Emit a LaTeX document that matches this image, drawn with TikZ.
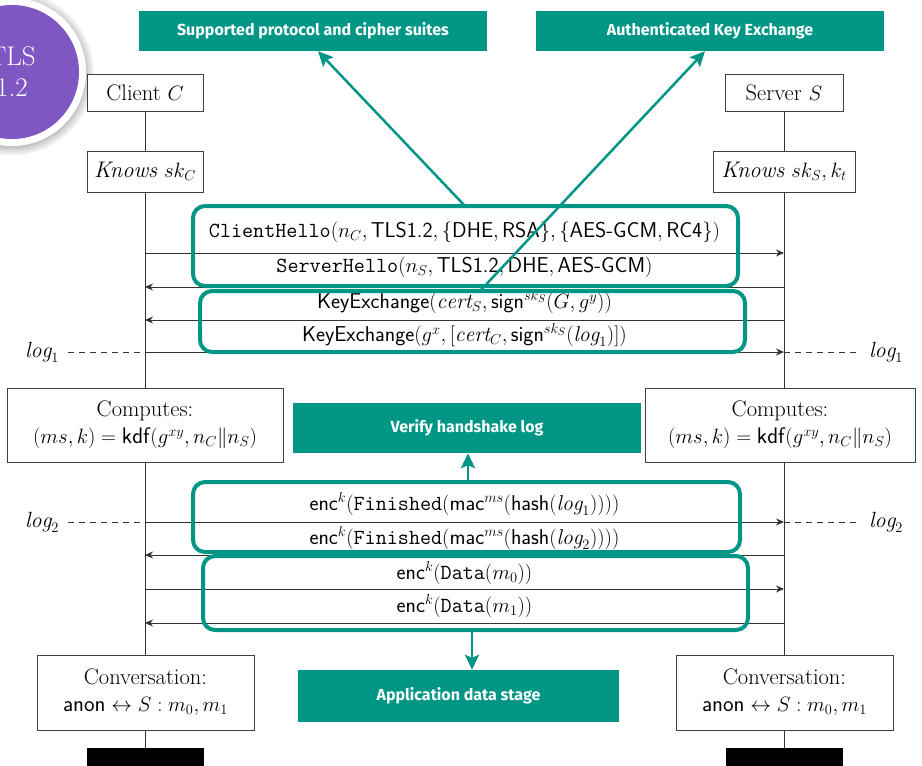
\documentclass[tikz,border=0pt]{standalone}
\usepackage{amsmath}
\usepackage{fontspec}
\newfontfamily\labelfont{Fira Sans}
\usetikzlibrary{arrows.meta,calc}
\definecolor{tealc}{RGB}{0,150,134}
\definecolor{purp}{RGB}{126,87,194}
\newcommand\sfx[1]{\text{\textsf{#1}}}
\newcommand\ttx[1]{\text{\texttt{#1}}}
\tikzset{
  box/.style={draw=black!75, fill=white, line width=0.8pt, inner sep=0pt, align=center, font=\fontsize{22.5}{27}\selectfont},
  tealbox/.style={fill=tealc, text=white, inner sep=0pt, font=\labelfont\bfseries\fontsize{16}{18}\selectfont},
  grp/.style={draw=tealc, line width=4pt, rounded corners=12pt, inner sep=0pt},
  msg/.style={inner sep=0pt, font=\fontsize{21.5}{25}\selectfont},
  loglbl/.style={inner sep=0pt, font=\fontsize{22}{25}\selectfont},
  life/.style={draw=black!80, line width=0.8pt},
  logdash/.style={life, dash pattern=on 6pt off 5pt},
  marrow/.style={life, -{Stealth[length=8pt,width=7pt]}},
  tarrow/.style={draw=tealc, line width=2.5pt, -{Stealth[length=15pt,width=14pt,inset=3pt]}},
  bar/.style={fill=black, inner sep=0pt, minimum width=117pt, minimum height=18pt}
}
\begin{document}
\begin{tikzpicture}[x=1pt,y=-1pt]
\useasboundingbox (0,0) rectangle (922,766);
% purple badge with soft shadow and white ring
\coordinate (bc) at (12,72);
\foreach \r in {82,80,78,76,74.5}{
  \fill[black, opacity=0.05] ($(bc)+(0,1.5)$) circle (\r pt);
}
\fill[white] (bc) circle (74pt);
\node[circle, fill=purp, minimum size=134pt, inner sep=0pt,
      text=white, align=center, font=\fontsize{27}{31}\selectfont] (badge) at (bc) {TLS\\1.2};
% top labels
\node[tealbox, minimum width=348pt, minimum height=40pt] (sup) at (313,31) {Supported protocol and cipher suites};
\node[tealbox, minimum width=348pt, minimum height=40pt] (auth) at (710,31) {Authenticated Key Exchange};
% bars
\node[bar] (cbar) at (145.5,757) {};
\node[bar] (sbar) at (784,757) {};
% lifelines
\coordinate (ctop) at (145,111);
\coordinate (stop) at (784,111);
\draw[life] (ctop) -- (cbar.north -| ctop);
\draw[life] (stop) -- (sbar.north -| stop);
% participant boxes
\node[box, minimum width=116pt, minimum height=37pt] (client) at (145,92.5) {Client $C$};
\node[box, minimum width=118pt, minimum height=37pt] (server) at (784,92.5) {Server $S$};
\node[box, minimum width=116pt, minimum height=41pt] (kc) at (145,171.5) {\textit{Knows} $sk_C$};
\node[box, minimum width=142pt, minimum height=41pt] (ks) at (784,171.5) {\textit{Knows} $sk_S,k_t$};
\node[box, minimum width=276pt, minimum height=74pt] (compc) at (145,425) {Computes:\\$(ms,k)=\sfx{kdf}(g^{xy},n_C\|n_S)$};
\node[box, minimum width=270pt, minimum height=74pt] (comps) at (780,425) {Computes:\\$(ms,k)=\sfx{kdf}(g^{xy},n_C\|n_S)$};
\node[box, minimum width=217pt, minimum height=75pt] (convc) at (145.5,692.5) {Conversation:\\$\sfx{anon}\leftrightarrow S: m_0,m_1$};
\node[box, minimum width=217pt, minimum height=75pt] (convs) at (784.5,692.5) {Conversation:\\$\sfx{anon}\leftrightarrow S: m_0,m_1$};
% lifeline points
\foreach \n/\y in {1/253,2/287,3/320,4/352,5/522,6/555,7/589,8/623}{
  \coordinate (c\n) at (145,\y);
  \coordinate (s\n) at (784,\y);
}
\draw[marrow] (c1) -- (s1);
\draw[marrow] (s2) -- (c2);
\draw[marrow] (s3) -- (c3);
\draw[marrow] (c4) -- (s4);
\draw[marrow] (c5) -- (s5);
\draw[marrow] (s6) -- (c6);
\draw[marrow] (c7) -- (s7);
\draw[marrow] (s8) -- (c8);
% messages
\node[msg] (m1) at (464.5,232) {\texttt{ClientHello}$(n_C,\sfx{TLS1.2},\{\sfx{DHE},\sfx{RSA}\},\{\sfx{AES-GCM},\sfx{RC4}\})$};
\node[msg] (m2) at (464.5,267) {\texttt{ServerHello}$(n_S,\sfx{TLS1.2},\sfx{DHE},\sfx{AES-GCM})$};
\node[msg] (m3) at (464.5,302) {\sfx{KeyExchange}$(\mathit{cert}_S,\sfx{sign}^{sk_S}(G,g^y))$};
\node[msg] (m4) at (464.5,335) {\sfx{KeyExchange}$(g^x,[\mathit{cert}_C,\sfx{sign}^{sk_S}(\mathit{log}_1)])$};
\node[msg] (m5) at (464.5,504) {$\sfx{enc}^k(\ttx{Finished}(\sfx{mac}^{ms}(\sfx{hash}(\mathit{log}_1))))$};
\node[msg] (m6) at (464.5,538) {$\sfx{enc}^k(\ttx{Finished}(\sfx{mac}^{ms}(\sfx{hash}(\mathit{log}_2))))$};
\node[msg] (m7) at (464.5,573) {$\sfx{enc}^k(\ttx{Data}(m_0))$};
\node[msg] (m8) at (464.5,606) {$\sfx{enc}^k(\ttx{Data}(m_1))$};
% logs
\node[loglbl] (l1l) at (42,352) {$\mathit{log}_1$};
\node[loglbl] (l1r) at (886,352) {$\mathit{log}_1$};
\node[loglbl] (l2l) at (42,522) {$\mathit{log}_2$};
\node[loglbl] (l2r) at (886,522) {$\mathit{log}_2$};
\draw[logdash] ($(l1l.east)+(9,0)$) -- (c4);
\draw[logdash] (s4) -- ($(l1r.west)+(-9,0)$);
\draw[logdash] ($(l2l.east)+(9,0)$) -- (c5);
\draw[logdash] (s5) -- ($(l2r.west)+(-9,0)$);
% group frames
\node[grp, minimum width=545pt, minimum height=80pt] (g1) at (465.5,246) {};
\node[grp, minimum width=545pt, minimum height=61pt] (g2) at (472.5,321.5) {};
\node[grp, minimum width=547pt, minimum height=70pt] (g3) at (466.5,517) {};
\node[grp, minimum width=545pt, minimum height=74pt] (g4) at (475.5,593) {};
% stage labels
\node[tealbox, minimum width=348pt, minimum height=50pt] (ver) at (467,428) {Verify handshake log};
\node[tealbox, minimum width=321pt, minimum height=52pt] (app) at (458.5,696) {Application data stage};
% teal connectors
\coordinate (a1) at (465,206);
\coordinate (a2) at (480,291);
\coordinate (a3) at (468,482);
\coordinate (a4) at (472,630);
\draw[tarrow] (a1) -- ($(sup.south)+(5,0)$);
\draw[tarrow] (a2) -- ($(auth.south)+(-5,0)$);
\draw[tarrow] (a3) -- (a3 |- ver.south);
\draw[tarrow] (a4) -- (a4 |- app.north);
\end{tikzpicture}
\end{document}
